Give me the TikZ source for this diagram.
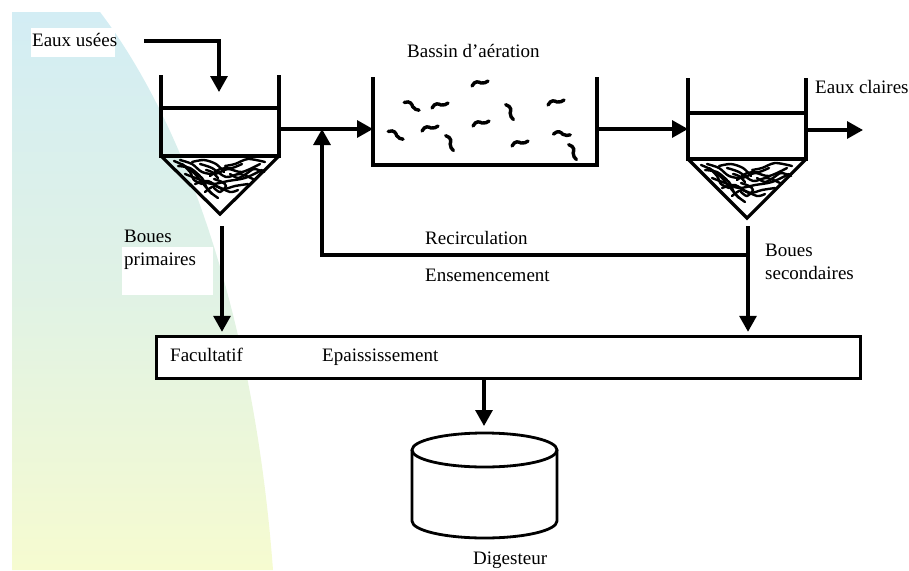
\documentclass[tikz,border=0pt]{standalone}
\usepackage{fontspec}
\setmainfont{Liberation Serif}
\usetikzlibrary{arrows.meta}
\definecolor{bgtop}{RGB}{211,237,244}
\definecolor{bgmid}{RGB}{224,242,229}
\definecolor{bgbot}{RGB}{246,251,208}
\begin{document}
\begin{tikzpicture}[x=1pt,y=-1pt,
  wall/.style={line width=3.2pt, line join=miter},
  pipe/.style={line width=3.2pt},
  flow/.style={line width=3.2pt, -{Triangle[length=16pt,width=17pt]}},
  lbl/.style={font=\fontsize{19}{23}\selectfont, inner sep=0pt, anchor=base west, align=left},
  sl/.style={line width=2.4pt, line cap=round, line join=round},
  floc/.pic={\draw[line width=3.4pt, line cap=round]
      (-8,3) .. controls (-5,-3) and (-1,-1) .. (1,0) .. controls (4,1) and (6,-1) .. (8,-2);},
  sludge/.pic={
    \draw[sl] plot[smooth] coordinates {(-46,-53) (-35,-48) (-25,-40) (-15,-28) (-8,-20)};
    \draw[sl] plot[smooth] coordinates {(-40,-54) (-28,-50) (-18,-42) (-5,-40) (8,-45) (22,-42) (40,-50)};
    \draw[sl] plot[smooth] coordinates {(-35,-40) (-22,-35) (-8,-30) (8,-33) (25,-36) (42,-44)};
    \draw[sl] plot[smooth] coordinates {(-25,-30) (-12,-33) (2,-25) (15,-28) (28,-30)};
    \draw[sl] plot[smooth] coordinates {(-20,-50) (-8,-46) (6,-37) (20,-40) (35,-34)};
    \draw[sl] plot[smooth] coordinates {(-30,-44) (-18,-36) (-12,-24) (-2,-16)};
    \draw[sl] plot[smooth] coordinates {(5,-48) (15,-50) (28,-55) (45,-52)};
    \draw[sl] plot[smooth] coordinates {(-10,-38) (0,-45) (12,-46) (22,-50)};
    \draw[sl] plot[smooth] coordinates {(-42,-48) (-30,-46) (-20,-38)};
    \draw[sl] plot[smooth] coordinates {(-15,-22) (-5,-28) (10,-22) (18,-24)};
    \draw[sl] plot[smooth] coordinates {(-38,-50) (-30,-42) (-26,-34) (-18,-30)};
    \draw[sl] plot[smooth] coordinates {(-6,-35) (2,-32) (6,-28) (0,-22) (-6,-26)};
    \draw[sl] plot[smooth] coordinates {(10,-40) (18,-36) (26,-40) (34,-45) (44,-42)};
    \draw[sl] plot[smooth] coordinates {(-28,-52) (-16,-54) (-4,-50) (4,-42)};
    \draw[sl] plot[smooth] coordinates {(-2,-36) (-8,-42) (-14,-44)};
  }
]
\useasboundingbox (0,0) rectangle (909,570);

% soft page decoration on the left
\shade[top color=bgtop, bottom color=bgbot, middle color=bgmid]
  (12,12) -- (100,12) .. controls (190,130) and (255,330) .. (273,570) -- (12,570) -- cycle;
\fill[white] (31,28) rectangle (115,57);
\fill[white] (122,247) rectangle (213,295);

% primary settler
\draw[wall] (161,75) -- (161,156) -- (279,156) -- (279,75);
\draw[wall] (161,108) -- (279,108);
\draw[wall] (161,156) -- (220,214) -- (279,156);
\path (220,214) pic {sludge};

% aeration basin with flocs
\draw[wall] (373,77) -- (373,165) -- (597,165) -- (597,77);
\path (480,83) pic {floc};
\path (412,106) pic[rotate=-45] {floc};
\path (440,105) pic {floc};
\path (510,112) pic[rotate=-80] {floc};
\path (556,102) pic {floc};
\path (396,135) pic[rotate=-45] {floc};
\path (430,128) pic {floc};
\path (450,143) pic[rotate=-80] {floc};
\path (481,123) pic {floc};
\path (520,143) pic {floc};
\path (562,134) pic[rotate=-20] {floc};
\path (573,152) pic[rotate=-80] {floc};

% secondary settler
\draw[wall] (688,78) -- (688,159) -- (806,159) -- (806,78);
\draw[wall] (688,113) -- (806,113);
\draw[wall] (688,159) -- (747,218) -- (806,159);
\path (747,218) pic {sludge};

% thickening box
\node (box) [draw, fill=white, line width=3.4pt, minimum width=704pt, minimum height=42pt,
  inner sep=0pt] at (508.5,357.5) {};

% digester
\coordinate (dig) at (484.5,450);
\draw[line width=2.8pt] (dig) ellipse [x radius=72.5pt, y radius=17pt];
\draw[line width=2.8pt] (412,450) -- (412,521)
  arc [start angle=180, end angle=360, x radius=72.5pt, y radius=17pt] -- (557,450);

% connection points
\coordinate (euStart) at (144,41);
\coordinate (lsIn) at (219,92);
\coordinate (lsOut) at (279,129);
\coordinate (bIn) at (373,129);
\coordinate (bOut) at (597,129);
\coordinate (rsIn) at (688,129);
\coordinate (rsOut) at (806,130);
\coordinate (clear) at (863,130);
\coordinate (lsBot) at (222,226);
\coordinate (rsBot) at (748,226);
\coordinate (split) at (748,255);
\coordinate (recTip) at (322,129);
\coordinate (digTip) at (484,426);

% flows
\draw[flow] (euStart) -| (lsIn);
\draw[flow] (lsOut) -- (bIn);
\draw[flow] (bOut) -- (rsIn);
\draw[flow] (rsOut) -- (clear);
\draw[flow, shorten >=3pt] (lsBot) -- (lsBot |- box.north);
\draw[pipe] (rsBot) -- (split);
\draw[flow, shorten >=3pt] (split) -- (split |- box.north);
\draw[flow] (split) -| (recTip);
\draw[flow] (box.south -| digTip) -- (digTip);

% labels
\node (tEU) [lbl] at (32,46) {Eaux usées};
\node (tBA) [lbl] at (407,57) {Bassin d’aération};
\node (tEC) [lbl] at (815,93) {Eaux claires};
\node (tBP) [lbl] at (124,265) {Boues\\primaires};
\node (tRC) [lbl] at (425,244) {Recirculation};
\node (tEN) [lbl] at (425,281) {Ensemencement};
\node (tBS) [lbl] at (765,279) {Boues\\secondaires};
\node (tFA) [lbl] at (170,361) {Facultatif};
\node (tEP) [lbl] at (322,361) {Epaississement};
\node (tDG) [lbl] at (473,564) {Digesteur};
\end{tikzpicture}
\end{document}
